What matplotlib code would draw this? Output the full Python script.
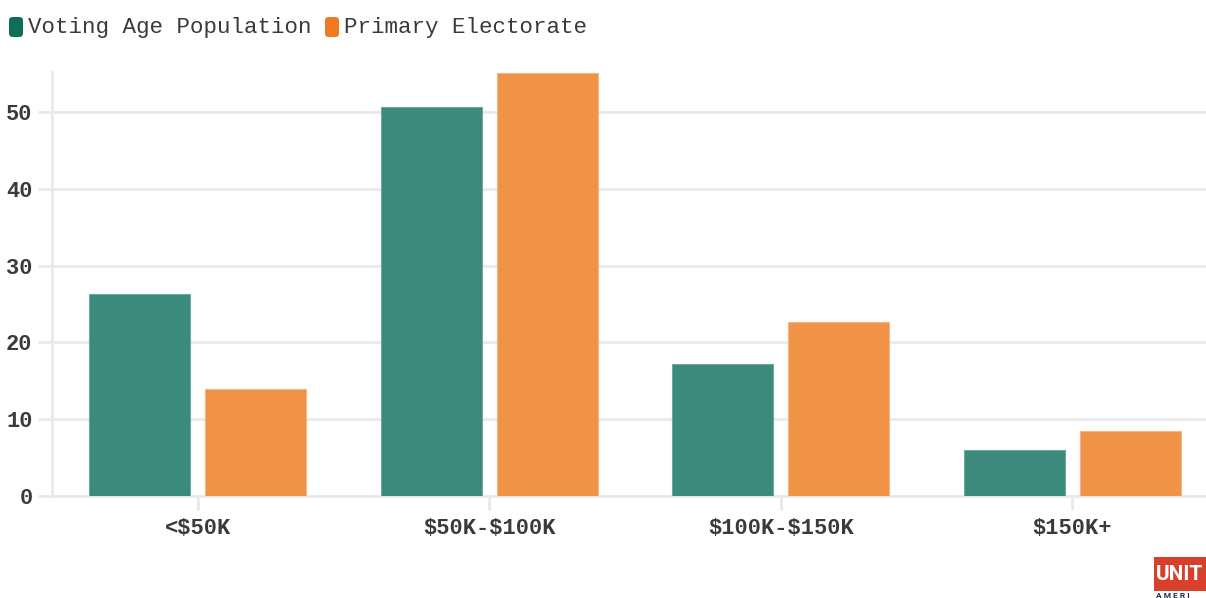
import numpy as np
import matplotlib.pyplot as plt
from matplotlib.patches import FancyBboxPatch, Rectangle

plt.rcParams["text.parse_math"] = False

# income brackets and share (%) of each group
categories = ["<$50K", "$50K-$100K", "$100K-$150K", "$150K+"]
voting_age = [26.3, 50.6, 17.2, 6.0]
primary = [13.9, 55.1, 22.7, 8.5]
series_names = ["Voting Age Population", "Primary Electorate"]
yticks = [0, 10, 20, 30, 40, 50]

green = "#3b8a7c"
orange = "#f09346"
green_key = "#0f6e5b"
orange_key = "#ee7a22"
grid_col = "#e9e9e9"
text_col = "#3a3a3a"
mono = ["Liberation Mono", "DejaVu Sans Mono"]

W, H = 1206, 598
fig = plt.figure(figsize=(W / 100, H / 100), dpi=100)
ax = fig.add_axes([52 / W, 102 / H, 1166 / W, 424 / H])

x = np.arange(len(categories))
bw = 0.347
off = 0.199
ax.bar(x - off, voting_age, bw, color=green, edgecolor="#6fa99d", linewidth=0.8, zorder=3)
ax.bar(x + off, primary, bw, color=orange, edgecolor="#f5b584", linewidth=0.8, zorder=3)

ax.set_xlim(-0.5, len(categories) - 0.5)
ax.set_ylim(0, 55.2)
ax.set_yticks(yticks)
ax.set_xticks(x)
ax.set_xticklabels(categories)
ax.grid(axis="y", color=grid_col, linewidth=2, zorder=0)
for s in ["top", "right"]:
    ax.spines[s].set_visible(False)
ax.spines["left"].set_color(grid_col)
ax.spines["left"].set_linewidth(2)
ax.spines["bottom"].set_color(grid_col)
ax.spines["bottom"].set_linewidth(2)
ax.tick_params(axis="both", colors=grid_col, width=2, length=10)
ax.tick_params(axis="y", pad=4)
ax.tick_params(axis="x", pad=6)
for lab in ax.get_xticklabels() + ax.get_yticklabels():
    lab.set_fontfamily(mono)
    lab.set_fontsize(15.8)
    lab.set_fontweight("bold")
    lab.set_color(text_col)

# legend keys: rounded swatches with labels
def key(x0, color, label):
    fig.patches.append(FancyBboxPatch((x0 / W, (H - 37) / H), 14 / W, 20 / H,
                                      boxstyle="round,pad=0,rounding_size=0.003",
                                      transform=fig.transFigure, facecolor=color,
                                      edgecolor="none", mutation_aspect=W / H))
    fig.text((x0 + 19) / W, (H - 27) / H, label, fontsize=16.2, family=mono,
             color=text_col, va="center", ha="left")

key(9, green_key, series_names[0])
key(325, orange_key, series_names[1])

# logo in the corner
fig.patches.append(Rectangle((1154 / W, (H - 591) / H), 60 / W, 34 / H,
                             transform=fig.transFigure, facecolor="#d9402b",
                             edgecolor="none"))
fig.text(1156 / W, (H - 574) / H, "UNIT", fontsize=15, family="Roboto",
         fontweight="bold", color="white", va="center", ha="left")
fig.text(1156 / W, (H - 596) / H, "A M E R I", fontsize=6, family="Roboto",
         fontweight="bold", color="#1d2a4d", va="center", ha="left")

fig.savefig("out.png", dpi=100)
